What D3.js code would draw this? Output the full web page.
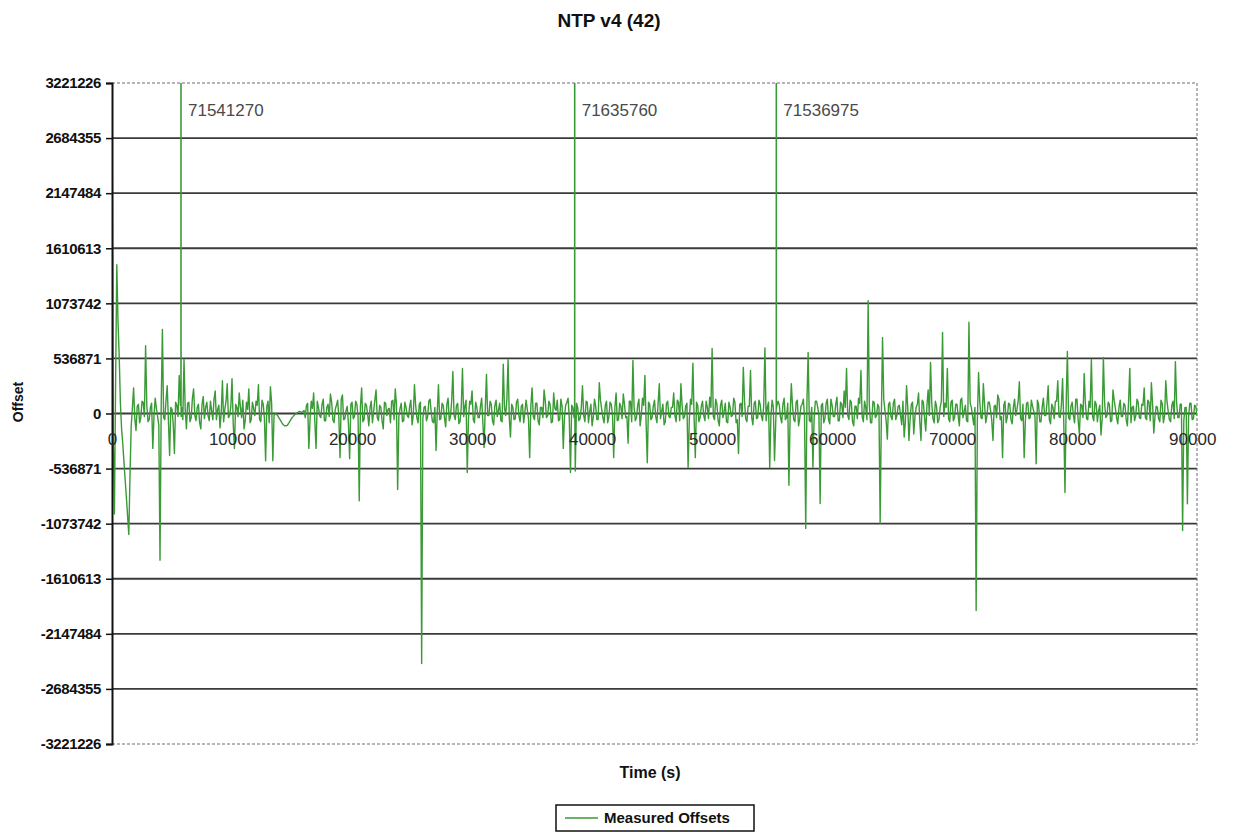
<!DOCTYPE html>
<html>
<head>
<meta charset="utf-8">
<script src="https://cdn.jsdelivr.net/npm/d3@7"></script>
<style>
  body { margin: 0; background: #fff; }
  svg { display: block; }
  text { font-family: "Liberation Sans", Arial, sans-serif; }
</style>
</head>
<body>
<svg id="chart" width="1233" height="832"></svg>
<script>
// ---- data ----
const chartTitle = "NTP v4 (42)";
const xAxisTitle = "Time (s)";
const yAxisTitle = "Offset";
const seriesName = "Measured Offsets";

const xTickValues = [0, 10000, 20000, 30000, 40000, 50000, 60000, 70000, 80000, 90000];
const yTickValues = [-3221226, -2684355, -2147484, -1610613, -1073742, -536871, 0,
                     536871, 1073742, 1610613, 2147484, 2684355, 3221226];

// offsets in thousands, sampled every 200 s starting at t = 0
const sampleStep = 200;
const offsetThousands = [
  3300, -980, 1450, 560, -150, -480, -820, -1180, -120, 250,
  -165, 90, -40, 110, 660, -80, 60, -340, 150, -30,
  -1430, 820, -60, 270, -410, 40, -390, 80, 370, 60,
  530, -150, 110, -40, 240, -70, 90, -150, 165, 60,
  -20, 120, -60, 220, 40, -140, 320, 40, 290, -20,
  340, -340, 60, 200, -40, -150, 110, 240, -60, 50,
  120, 280, -80, 90, -460, 120, 260, -460, 0, -20,
  -60, -100, -120, -115, -80, -40, -15, 5, 20, 10,
  30, 80, -340, 120, 200, -340, 60, -40, 140, -70,
  90, 190, -60, 40, 130, -430, 180, -50, 70, -440,
  110, -30, 90, -850, 250, -60, 80, -120, 120, 20,
  230, -70, 60, -150, 100, 40, -90, 130, 240, -740,
  50, -80, 110, -20, 70, -110, 280, -40, 90, -2436,
  60, -70, 120, 10, -90, -360, 280, -50, 80, -130,
  150, -30, 410, -60, 100, -80, 440, 70, -575, 120,
  220, -90, 60, -40, 150, -330, 380, -20, 90, -110,
  130, 30, -70, 480, -20, 525, -230, 60, -50, 140,
  -80, 90, 10, 40, -430, 250, -60, 100, -110, 60,
  230, -40, 120, -90, 200, 30, -70, 140, -340, 80,
  150, -575, 60, -560, 60, -50, 270, -80, 110, 20,
  -120, 140, -60, 300, 40, -90, 120, -30, 90, -430,
  200, -60, 70, 190, -40, -290, 120, 516, -70, 80,
  -120, 150, 370, -480, 90, -40, 130, -90, 290, 20,
  -110, 100, -30, 60, 200, -80, 110, 290, -50, 70,
  -526, 140, 490, -430, 80, -40, 120, -70, 60, 160,
  633, -60, 90, -120, 130, 20, -80, 110, -30, 150,
  -90, -390, 100, 450, -50, 70, 420, -110, 120, -40,
  90, -70, 640, 60, -526, 130, -458, 80, 80, -90,
  150, -40, -700, 290, -60, 110, -120, 70, 140, -1120,
  594, -80, -526, 120, 60, -877, 100, -50, 140, -100,
  80, -30, 160, -70, 90, 220, 440, -60, 110, -120,
  70, 150, 420, -80, 60, 1100, -90, 120, -40, 90,
  -1070, 740, 30, -250, 110, -60, 140, -20, 80, -110,
  -230, 270, -263, 90, -200, 60, 200, -263, 110, -170,
  230, 497, -50, 120, -90, 60, 790, 100, 440, -80,
  130, -40, 90, -120, 150, 20, -70, 890, 60, -110,
  -1920, 400, -40, 290, -90, 110, 30, -263, 80, 180,
  -60, -430, 120, -30, 90, -100, 140, 40, 310, -70,
  -430, 100, -50, 130, 20, -490, 90, -80, 150, -20,
  270, -100, 60, 120, 320, -40, 340, -770, 604, -60,
  110, -90, 140, -200, 80, 390, -50, 120, 526, -70,
  90, 30, -210, 546, -40, 110, -80, 230, 50, -100,
  130, -30, 80, -120, 440, 60, -70, 140, -40, 90,
  250, -60, 110, 300, -190, 70, -50, 130, -90, 320,
  20, -80, 120, 506, -40, 90, -1140, 60, -880, 100,
  -60, 80, -20
];

// offsets in thousands taken halfway between the samples above (t = 100, 300, 500, ...)
const midOffsetThousands = [
  -200, 300, 900, 100, -300, -650, -1000, -600, 60, -50,
  70, -90, 120, -30, 80, -60, 100, -20, 50, -110,
  90, -40, 130, -70, 60, -100, 110, -30, 80, -60,
  40, 100, -80, 150, -20, 60, -90, 90, -50, 110,
  -70, 30, 140, -60, 80, 10, -80, 120, -40, 70,
  -100, 90, -30, 60, 130, -70, 40, -90, 110, -20,
  80, -60, 130, -50, 70, -90, 100, -20, -10, -40,
  -80, -112, -120, -100, -60, -28, -5, 12, 15, 20,
  -40, 100, -60, 50, -80, 120, -20, 90, -70, 60,
  -30, 110, -90, 80, -40, 140, -60, 30, -100, 90,
  -50, 120, -30, 70, -80, 100, -10, 60, -90, 130,
  -40, 80, -70, 110, -20, 50, 120, -60, 90, -30,
  100, -70, 60, -40, 130, -20, 80, -90, 110, -50,
  70, -30, 140, -80, 60, 20, -60, 100, -40, 90,
  -70, 120, -20, 80, -100, 60, -30, 130, -50, 90,
  -60, 110, -40, 70, -90, 50, -20, 120, -70, 80,
  -30, 100, -80, 60, 140, -40, 90, -60, 110, -20,
  70, -90, 130, -50, 80, -30, 100, -70, 60, -40,
  120, -20, 90, -80, 50, 130, -60, 70, -30, 110,
  -50, 80, -40, 100, -70, 60, -20, 120, -90, 90,
  -30, 70, -60, 130, -40, 80, -90, 110, -20, 60,
  -70, 100, -50, 90, -30, 120, -80, 60, -40, 140,
  -20, 80, -90, 110, -60, 70, -30, 100, -50, 90,
  -80, 120, -40, 60, -20, 130, -70, 80, -30, 100,
  -60, 90, -40, 110, -80, 70, -20, 120, -50, 60,
  -30, 140, -70, 80, -40, 100, -90, 60, -20, 110,
  -60, 90, -30, 120, -80, 70, -40, 100, -50, 130,
  -20, 80, -70, 110, -30, 60, -90, 120, -40, 90,
  -60, 100, -20, 70, -80, 130, -50, 90, -30, 110,
  -70, 60, -40, 120, -20, 80, -90, 100, -60, 140,
  -30, 90, -70, 110, -40, 60, -20, 130, -80, 70,
  -50, 100, -30, 120, -60, 80, -90, 110, -20, 60,
  -40, 140, -70, 90, -30, 100, -60, 70, -20, 120,
  -80, 60, -50, 110, -30, 90, -70, 130, -40, 80,
  -20, 100, -90, 70, -60, 120, -30, 60, -50, 110,
  -70, 90, -20, 130, -40, 80, -80, 100, -30, 60,
  -60, 120, -50, 90, -20, 110, -70, 70, -40, 140,
  -30, 80, -90, 100, -60, 60, -20, 120, -50, 90,
  -70, 110, -40, 70, -30, 130, -80, 60, -20, 100,
  -60, 90, -50, 120, -30, 80, -90, 110, -40, 70,
  -20, 140, -70, 90, -40, 100, -60, 60, -30, 120,
  -80, 80, -50, 110, -20, 90, -70, 130, -40, 60,
  -30, 100, -60, 120, -90, 70, -20, 110, -50, 80,
  -40, 130, -70, 90, -30, 60, -80, 100, -20, 120,
  -60, 80, -50, 110, -40, 90, -70, 60, -30, 100,
  -50, 70
];

// isolated offsets far beyond the plotted range, labelled with their values,
// with the readings taken 8 s before and after each of them
const spikeTimes = [5750, 38550, 55350];
const spikeValues = [71541270, 71635760, 71536975];
const spikeLeadValues = [80000, 40000, 60000];
const spikeTrailValues = [-30000, 20000, 50000];

// ---- layout ----
const plot = { left: 112, right: 1197, top: 83, bottom: 744 };
const svg = d3.select("#chart");

const x = d3.scaleLinear().domain([0, 90400]).range([plot.left, plot.right]);
const y = d3.scaleLinear().domain([yTickValues[0], yTickValues[yTickValues.length - 1]])
  .range([plot.bottom, plot.top]);

const spikePoints = spikeTimes.map((t, i) => ({ t: t, v: spikeValues[i] }));
const points = offsetThousands.map((v, i) => ({ t: i * sampleStep, v: v * 1000 }))
  .concat(midOffsetThousands.map((v, i) => ({ t: i * sampleStep + sampleStep / 2, v: v * 1000 })))
  .concat(spikePoints)
  .concat(spikeTimes.map((t, i) => ({ t: t - 8, v: spikeLeadValues[i] })))
  .concat(spikeTimes.map((t, i) => ({ t: t + 8, v: spikeTrailValues[i] })))
  .sort((a, b) => a.t - b.t);

// horizontal gridlines
svg.append("g").selectAll("line")
  .data(yTickValues.slice(1, -1))
  .join("line")
  .attr("x1", plot.left).attr("x2", plot.right)
  .attr("y1", d => y(d)).attr("y2", d => y(d))
  .attr("stroke", "#3a3a3a").attr("stroke-width", 1.8);

// dashed plot-area border (top, right, bottom)
const border = svg.append("g").attr("fill", "none").attr("stroke", "#6a6a78")
  .attr("stroke-width", 1).attr("stroke-dasharray", "3,2");
border.append("line").attr("x1", plot.left).attr("x2", plot.right).attr("y1", plot.top).attr("y2", plot.top);
border.append("line").attr("x1", plot.right).attr("x2", plot.right).attr("y1", plot.top).attr("y2", plot.bottom);
border.append("line").attr("x1", plot.left).attr("x2", plot.right).attr("y1", plot.bottom).attr("y2", plot.bottom);

// data line, clipped to the plot area
svg.append("clipPath").attr("id", "plotClip")
  .append("rect").attr("x", plot.left).attr("y", plot.top)
  .attr("width", plot.right - plot.left).attr("height", plot.bottom - plot.top);

const line = d3.line().x(d => x(d.t)).y(d => y(d.v));
svg.append("path")
  .datum(points)
  .attr("clip-path", "url(#plotClip)")
  .attr("fill", "none")
  .attr("stroke", "#3a9a35")
  .attr("stroke-width", 1.4)
  .attr("stroke-linejoin", "round")
  .attr("d", line);

// y axis
const yAxis = svg.append("g")
  .attr("transform", `translate(${plot.left},0)`)
  .call(d3.axisLeft(y).tickValues(yTickValues).tickSize(6).tickPadding(5).tickFormat(d => String(d)));
yAxis.select(".domain").attr("stroke", "#111").attr("stroke-width", 2);
yAxis.selectAll(".tick line").attr("stroke", "#111").attr("stroke-width", 1.5);
yAxis.selectAll(".tick text")
  .attr("fill", "#111").style("font-size", "15px").style("font-weight", "bold")
  .style("letter-spacing", "-0.4px");

// x axis labels sit along the zero line
const xAxis = svg.append("g")
  .attr("transform", `translate(0,${y(0)})`)
  .call(d3.axisBottom(x).tickValues(xTickValues).tickSize(0).tickPadding(19).tickFormat(d => String(d)));
xAxis.select(".domain").remove();
xAxis.selectAll(".tick text")
  .attr("fill", "#2a2a2a").style("font-size", "17px");

// spike value labels
svg.append("g").selectAll("text")
  .data(spikePoints)
  .join("text")
  .attr("x", d => x(d.t) + 7)
  .attr("y", 116)
  .attr("fill", "#4a4a4a")
  .style("font-size", "17px")
  .text(d => d.v);

// titles
svg.append("text").attr("x", 609).attr("y", 27).attr("text-anchor", "middle")
  .style("font-size", "19px").style("font-weight", "bold").attr("fill", "#111").text(chartTitle);
svg.append("text").attr("x", 650).attr("y", 778).attr("text-anchor", "middle")
  .style("font-size", "16px").style("font-weight", "bold").attr("fill", "#111").text(xAxisTitle);
svg.append("text").attr("transform", "translate(23,402) rotate(-90)").attr("text-anchor", "middle")
  .style("font-size", "14px").style("font-weight", "bold").attr("fill", "#111").text(yAxisTitle);

// legend
const legend = svg.append("g");
legend.append("rect").attr("x", 556).attr("y", 805).attr("width", 198).attr("height", 26)
  .attr("fill", "#fff").attr("stroke", "#111").attr("stroke-width", 1.5);
legend.append("line").attr("x1", 565).attr("x2", 598).attr("y1", 818).attr("y2", 818)
  .attr("stroke", "#3a9a35").attr("stroke-width", 1.5);
legend.append("text").attr("x", 604).attr("y", 823)
  .style("font-size", "15px").style("font-weight", "bold").attr("fill", "#111").text(seriesName);
</script>
</body>
</html>
